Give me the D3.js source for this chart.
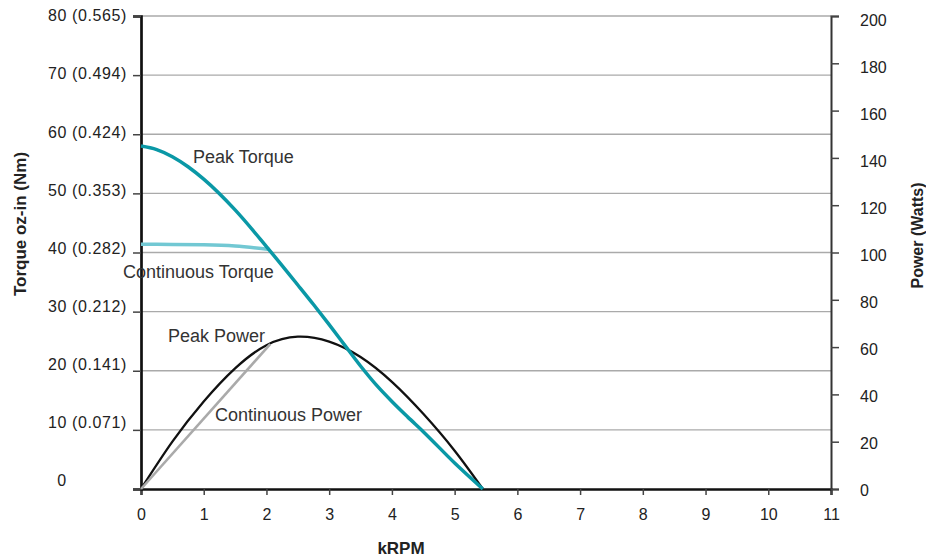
<!DOCTYPE html>
<html>
<head>
<meta charset="utf-8">
<script src="https://cdn.jsdelivr.net/npm/d3@7"></script>
<style>
  body { margin: 0; background: #fff; }
  svg text { font-family: "Liberation Sans", Arial, sans-serif; }
</style>
</head>
<body>
<div id="root"></div>
<script>
// Chart data.
const rpmTicks = [0, 1, 2, 3, 4, 5, 6, 7, 8, 9, 10, 11];
const torqueTicks = [0, 10, 20, 30, 40, 50, 60, 70, 80];
const torqueTickLabels = ['0', '10 (0.071)', '20 (0.141)', '30 (0.212)', '40 (0.282)',
  '50 (0.353)', '60 (0.424)', '70 (0.494)', '80 (0.565)'];
const powerTicks = [0, 20, 40, 60, 80, 100, 120, 140, 160, 180, 200];

// Peak torque (oz-in) against kRPM
const peakTorqueRpm = [0, 0.25, 0.5, 0.75, 1, 1.5, 2, 2.5, 2.75, 3, 3.25, 3.5, 3.75, 4, 4.25, 4.5, 5, 5.45];
const peakTorque = [58, 57.4, 56.2, 54.5, 52.4, 47.2, 41, 34.5, 31.2, 27.8, 24.3, 20.8, 17.6, 14.8, 12.2, 9.7, 4.4, 0];

// Continuous torque (oz-in)
const contTorqueRpm = [0, 0.5, 1, 1.5, 2.05];
const contTorque = [41.4, 41.35, 41.3, 41.1, 40.5];

// Peak power (Watts)
const peakPowerRpm = [0, 0.5, 1, 1.5, 2, 2.5, 3, 3.5, 4, 4.5, 5, 5.45];
const peakPower = [0, 20, 37, 51, 60.8, 64.4, 62.3, 55.8, 45.3, 31.8, 16.2, 0];

// Continuous power (Watts)
const contPowerRpm = [0, 2.06];
const contPower = [0, 61.3];

const width = 926;
const height = 558;
const plotLeft = 141, plotRight = 831, plotTop = 16, plotBottom = 489;

const svg = d3.select('#root')
  .append('svg')
  .attr('width', width)
  .attr('height', height);

const xScale = d3.scaleLinear().domain([0, 11]).range([plotLeft, plotRight]);
const yTorque = d3.scaleLinear().domain([0, 80]).range([plotBottom, plotTop]);
const yPower = d3.scaleLinear().domain([0, 200]).range([plotBottom, plotTop]);

// Horizontal grid lines on the torque ticks
svg.append('g')
  .selectAll('line')
  .data(torqueTicks.filter(d => d > 0))
  .enter()
  .append('line')
  .attr('x1', plotLeft)
  .attr('x2', plotRight)
  .attr('y1', d => yTorque(d))
  .attr('y2', d => yTorque(d))
  .attr('stroke', '#aaa')
  .attr('stroke-width', 1.3);

// Axes
let xAxis = d3.axisBottom(xScale)
  .tickValues(rpmTicks)
  .tickSize(6)
  .tickPadding(14)
  .tickFormat(d3.format('d'));

let yAxisLeft = d3.axisLeft(yTorque)
  .tickValues(torqueTicks)
  .tickSize(8)
  .tickPadding(6)
  .tickFormat((d, i) => torqueTickLabels[i]);

let yAxisRight = d3.axisRight(yPower)
  .tickValues(powerTicks)
  .tickSize(8)
  .tickPadding(21)
  .tickFormat(d3.format('d'));

const gx = svg.append('g')
  .attr('transform', `translate(0, ${plotBottom})`)
  .call(xAxis);

const gl = svg.append('g')
  .attr('transform', `translate(${plotLeft}, 0)`)
  .call(yAxisLeft);

const gr = svg.append('g')
  .attr('transform', `translate(${plotRight}, 0)`)
  .call(yAxisRight);

[gx, gl, gr].forEach(g => {
  g.selectAll('text')
    .attr('font-size', 16)
    .attr('fill', '#222')
    .style('font-family', '"Liberation Sans", Arial, sans-serif');
  g.selectAll('.tick line').attr('stroke', '#444').attr('stroke-width', 1.5);
});

gx.select('.domain').attr('stroke', '#111').attr('stroke-width', 2.3);
gl.select('.domain').attr('stroke', '#111').attr('stroke-width', 2.7);
gr.select('.domain').attr('stroke', '#333').attr('stroke-width', 2);

// Left labels drift slightly upward toward the bottom
gl.selectAll('.tick text')
  .attr('letter-spacing', 0.6)
  .attr('dy', d => (0.3 * 16 - 8 * (80 - d) / 80) + 'px');
gl.selectAll('.tick text')
  .filter(d => d === 0)
  .attr('x', 62 - plotLeft)
  .attr('text-anchor', 'middle');

gr.selectAll('.tick text')
  .attr('dy', d => (0.32 * 16 + 1 + 3.5 * d / 200) + 'px');

// Curves
const smooth = d3.line().curve(d3.curveNatural);
const flat = d3.line().curve(d3.curveMonotoneX);

const pts = (xs, ys, yScale) => xs.map((x, i) => [xScale(x), yScale(ys[i])]);

svg.append('path')
  .attr('d', smooth(pts(peakPowerRpm, peakPower, yPower)))
  .attr('fill', 'none')
  .attr('stroke', '#111')
  .attr('stroke-width', 2.3);

svg.append('path')
  .attr('d', flat(pts(contPowerRpm, contPower, yPower)))
  .attr('fill', 'none')
  .attr('stroke', '#aaa')
  .attr('stroke-width', 2.6);

svg.append('path')
  .attr('d', flat(pts(contTorqueRpm, contTorque, yTorque)))
  .attr('fill', 'none')
  .attr('stroke', '#72c8d3')
  .attr('stroke-width', 3.5);

svg.append('path')
  .attr('d', flat(pts(peakTorqueRpm, peakTorque, yTorque)))
  .attr('fill', 'none')
  .attr('stroke', '#0a98a6')
  .attr('stroke-width', 3.5);

// Curve labels
const labels = [
  { text: 'Peak Torque', x: 193, y: 162.5 },
  { text: 'Continuous Torque', x: 123, y: 278 },
  { text: 'Peak Power', x: 168, y: 341.5 },
  { text: 'Continuous Power', x: 215, y: 420.5 }
];

svg.append('g')
  .selectAll('text')
  .data(labels)
  .enter()
  .append('text')
  .attr('x', d => d.x)
  .attr('y', d => d.y)
  .attr('font-size', 18)
  .attr('fill', '#333')
  .text(d => d.text);

// Axis titles
svg.append('text')
  .attr('x', 401)
  .attr('y', 554)
  .attr('text-anchor', 'middle')
  .attr('font-size', 17)
  .attr('font-weight', 'bold')
  .attr('fill', '#222')
  .text('kRPM');

svg.append('text')
  .attr('transform', 'translate(26, 224) rotate(-90)')
  .attr('text-anchor', 'middle')
  .attr('font-size', 17)
  .attr('font-weight', 'bold')
  .attr('fill', '#222')
  .text('Torque oz-in (Nm)');

svg.append('text')
  .attr('transform', 'translate(923, 235.5) rotate(-90)')
  .attr('text-anchor', 'middle')
  .attr('font-size', 16)
  .attr('font-weight', 'bold')
  .attr('fill', '#222')
  .text('Power (Watts)');
</script>
</body>
</html>
